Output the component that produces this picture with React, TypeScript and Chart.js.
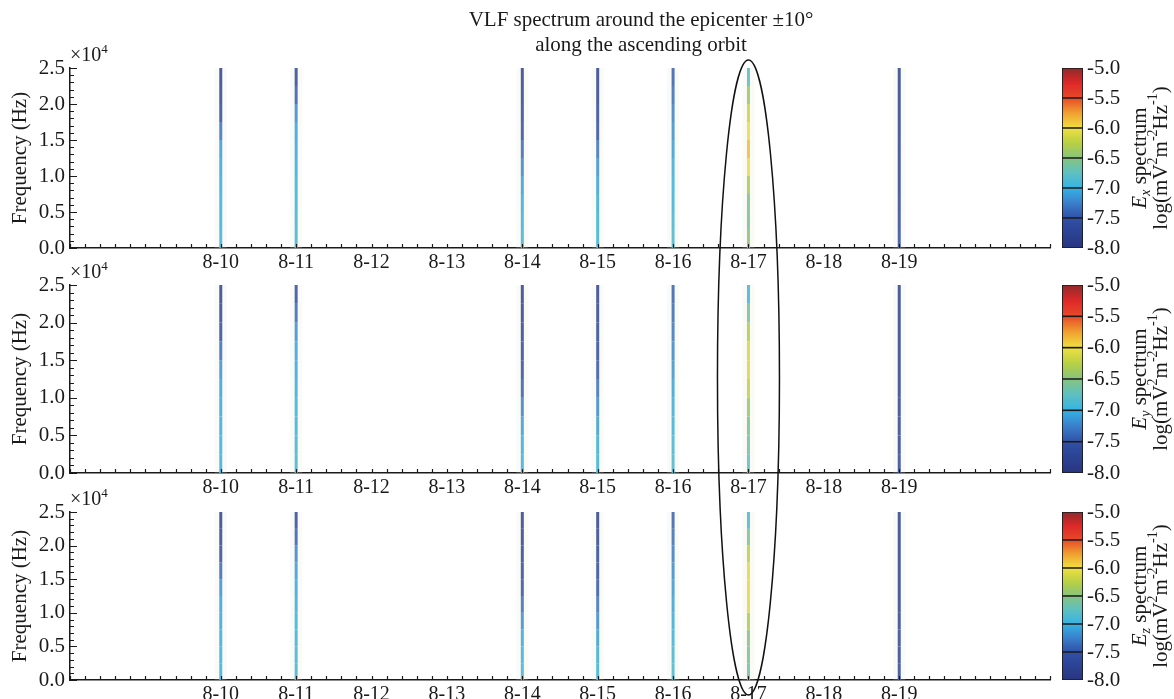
import React, { useEffect, useRef, useState } from 'react';
import { Chart, registerables } from 'chart.js';
Chart.register(...registerables);

// ---------------- DATA ----------------
const allDates = ['8-08', '8-09', '8-10', '8-11', '8-12', '8-13', '8-14', '8-15', '8-16', '8-17', '8-18', '8-19', '8-20', '8-21'];
const shownDates = ['8-10', '8-11', '8-12', '8-13', '8-14', '8-15', '8-16', '8-17', '8-18', '8-19'];
const stripDates = ['8-10', '8-11', '8-14', '8-15', '8-16', '8-17', '8-19'];
const circledDate = '8-17';
const freqHz = [0, 2500, 5000, 7500, 10000, 12500, 15000, 17500, 20000, 22500, 25000];
const freqTicks = [0, 5000, 10000, 15000, 20000, 25000];
const colorTicks = [-8.0, -7.5, -7.0, -6.5, -6.0, -5.5, -5.0];

// log spectrum values (bottom -> top of each strip), one row per strip date
const exValues = [
  [-6.95, -6.95, -7.0, -7.0, -7.05, -7.05, -7.15, -7.5, -7.7, -7.75, -7.8],
  [-6.9, -6.95, -6.95, -7.0, -7.0, -7.05, -7.05, -7.1, -7.3, -7.6, -7.75],
  [-6.9, -6.95, -7.0, -7.05, -7.15, -7.3, -7.45, -7.6, -7.7, -7.75, -7.8],
  [-6.95, -7.0, -7.0, -7.05, -7.1, -7.2, -7.45, -7.6, -7.7, -7.75, -7.8],
  [-6.85, -6.9, -6.95, -7.0, -7.0, -7.05, -7.15, -7.2, -7.3, -7.4, -7.45],
  [-6.4, -6.55, -6.6, -6.5, -6.15, -5.85, -5.9, -6.1, -6.2, -6.6, -7.0],
  [-7.55, -7.6, -7.65, -7.7, -7.7, -7.75, -7.75, -7.8, -7.8, -7.8, -7.8],
];
const eyValues = [
  [-6.95, -7.0, -7.0, -7.05, -7.05, -7.1, -7.2, -7.5, -7.7, -7.75, -7.8],
  [-6.9, -6.95, -6.95, -7.0, -7.0, -7.05, -7.05, -7.1, -7.25, -7.5, -7.65],
  [-6.95, -7.0, -7.05, -7.15, -7.35, -7.5, -7.6, -7.7, -7.75, -7.8, -7.8],
  [-6.95, -7.0, -7.05, -7.15, -7.25, -7.4, -7.55, -7.65, -7.7, -7.75, -7.8],
  [-6.85, -6.9, -6.95, -7.0, -7.05, -7.1, -7.2, -7.25, -7.35, -7.4, -7.45],
  [-6.8, -6.7, -6.6, -6.55, -6.3, -6.1, -6.05, -6.15, -6.4, -6.8, -7.05],
  [-7.65, -7.7, -7.7, -7.75, -7.75, -7.8, -7.8, -7.8, -7.8, -7.8, -7.8],
];
const ezValues = [
  [-6.95, -7.0, -7.0, -7.05, -7.05, -7.1, -7.2, -7.55, -7.7, -7.75, -7.8],
  [-6.9, -6.95, -6.95, -7.0, -7.0, -7.05, -7.05, -7.15, -7.3, -7.55, -7.7],
  [-6.9, -6.95, -7.0, -7.1, -7.25, -7.45, -7.55, -7.65, -7.75, -7.8, -7.8],
  [-6.95, -7.0, -7.05, -7.15, -7.25, -7.4, -7.55, -7.65, -7.7, -7.75, -7.8],
  [-6.85, -6.9, -6.95, -7.0, -7.05, -7.1, -7.15, -7.25, -7.3, -7.4, -7.45],
  [-6.7, -6.6, -6.55, -6.45, -6.15, -5.95, -6.0, -6.1, -6.35, -6.75, -7.0],
  [-7.65, -7.7, -7.7, -7.75, -7.75, -7.8, -7.8, -7.8, -7.8, -7.8, -7.8],
];
const components = ['x', 'y', 'z'];

// ---------------- STYLE ----------------
const FONT = '"Liberation Serif", "Times New Roman", serif';
const INK = '#1a1a1a';
const CMAP_STOPS: [number, string][] = [
  [-8.0, '#283580'], [-7.5, '#3050a6'], [-7.25, '#3a80cc'], [-7.0, '#35b2e4'],
  [-6.75, '#5ec0c2'], [-6.5, '#86c47e'], [-6.25, '#b8d044'], [-6.0, '#f0e040'],
  [-5.75, '#f0a030'], [-5.5, '#e84a28'], [-5.25, '#de2828'], [-5.0, '#8e2a2a'],
];
function hexRgb(h: string) {
  return [parseInt(h.slice(1, 3), 16), parseInt(h.slice(3, 5), 16), parseInt(h.slice(5, 7), 16)];
}
function cmap(v: number): string {
  const s = CMAP_STOPS;
  if (v <= s[0][0]) return s[0][1];
  if (v >= s[s.length - 1][0]) return s[s.length - 1][1];
  for (let i = 0; i < s.length - 1; i++) {
    if (v >= s[i][0] && v <= s[i + 1][0]) {
      const t = (v - s[i][0]) / (s[i + 1][0] - s[i][0]);
      const a = hexRgb(s[i][1]), b = hexRgb(s[i + 1][1]);
      const c = a.map((x, k) => Math.round(x + (b[k] - x) * t));
      return `rgb(${c[0]},${c[1]},${c[2]})`;
    }
  }
  return s[0][1];
}

const PANELS = [
  { top: 0, height: 278, padTop: 68, xH: 30, areaTop: 68, areaBottom: 248, values: exValues },
  { top: 255, height: 248, padTop: 30, xH: 30, areaTop: 285, areaBottom: 473, values: eyValues },
  { top: 482, height: 217, padTop: 30, xH: 19, areaTop: 512, areaBottom: 680, values: ezValues },
];
const PANEL_W = 1060;
const CB_LEFT = 1050;
const CB_W = 124;
const CB_PAD = 22;

type Part = { t: string; sup?: boolean; sub?: boolean; italic?: boolean };
function drawRich(ctx: CanvasRenderingContext2D, parts: Part[], x: number, y: number, size: number, align: 'left' | 'center') {
  const fontOf = (p: Part) => `${p.italic ? 'italic ' : ''}${p.sup || p.sub ? Math.round(size * 0.65) : size}px ${FONT}`;
  let total = 0;
  const widths = parts.map((p) => { ctx.font = fontOf(p); const w = ctx.measureText(p.t).width; total += w; return w; });
  let cx = align === 'center' ? x - total / 2 : x;
  ctx.textAlign = 'left';
  parts.forEach((p, i) => {
    ctx.font = fontOf(p);
    const dy = p.sup ? -size * 0.38 : p.sub ? size * 0.28 : 0;
    ctx.fillText(p.t, cx, y + dy);
    cx += widths[i];
  });
}

function panelConfig(p: typeof PANELS[number], idx: number): any {
  const datasets: any[] = [];
  stripDates.forEach((d, si) => {
    const day = allDates.indexOf(d);
    const vals = p.values[si];
    const pts = freqHz.map((f) => ({ x: day, y: f }));
    datasets.push({ data: pts, borderColor: 'rgba(230,230,210,0.18)', borderWidth: 12, pointRadius: 0, borderCapStyle: 'butt' });
    datasets.push({
      data: pts, borderWidth: 3, pointRadius: 0, borderCapStyle: 'butt', borderColor: cmap(vals[0]),
      segment: { borderColor: (c: any) => cmap((vals[c.p0DataIndex] + vals[c.p1DataIndex]) / 2) },
    });
  });
  const plugin = {
    id: 'panelDecor' + idx,
    afterDatasetsDraw(chart: any) {
      const { ctx, chartArea: a, scales } = chart;
      ctx.save();
      ctx.strokeStyle = INK;
      ctx.lineWidth = 1.2;
      ctx.beginPath();
      for (let v = 0; v <= 25000; v += 1000) {
        const y = Math.round(scales.y.getPixelForValue(v)) + 0.5;
        const len = v % 5000 === 0 ? 7 : 4;
        ctx.moveTo(a.left, y); ctx.lineTo(a.left + len, y);
      }
      for (let i = 0; i <= (allDates.length - 1) * 5; i++) {
        const x = Math.round(scales.x.getPixelForValue(i / 5)) + 0.5;
        ctx.moveTo(x, a.bottom); ctx.lineTo(x, a.bottom - 4);
      }
      ctx.stroke();
      ctx.fillStyle = INK;
      ctx.textBaseline = 'alphabetic';
      drawRich(ctx, [{ t: '×10' }, { t: '4', sup: true }], a.left, a.top - 7, 20, 'left');
      if (idx === 0) {
        ctx.textBaseline = 'middle';
        drawRich(ctx, [{ t: 'VLF spectrum around the epicenter ±10°' }], 641, 20, 21, 'center');
        drawRich(ctx, [{ t: 'along the ascending orbit' }], 641, 45, 21, 'center');
      }
      ctx.restore();
    },
  };
  return {
    type: 'line',
    data: { datasets },
    plugins: [plugin],
    options: {
      responsive: false, animation: false, devicePixelRatio: 1,
      layout: { padding: { top: p.padTop, right: PANEL_W - 1050, left: 0, bottom: 0 } },
      plugins: { legend: { display: false }, tooltip: { enabled: false } },
      scales: {
        x: {
          type: 'linear', min: 0, max: allDates.length - 1,
          afterFit: (s: any) => { s.height = p.xH; },
          afterBuildTicks: (s: any) => { s.ticks = allDates.map((_, i) => ({ value: i })); },
          ticks: {
            autoSkip: false, maxRotation: 0, padding: 3, color: INK,
            font: { family: FONT, size: 20 },
            callback: (v: number) => (shownDates.includes(allDates[v]) ? allDates[v] : ''),
          },
          grid: { display: true, drawOnChartArea: false, drawTicks: false },
          border: { display: true, color: INK, width: 1.5 },
        },
        y: {
          type: 'linear', min: 0, max: 25000,
          afterFit: (s: any) => { s.width = 70; },
          afterBuildTicks: (s: any) => { s.ticks = freqTicks.map((v) => ({ value: v })); },
          ticks: { autoSkip: false, padding: 5, color: INK, font: { family: FONT, size: 21 }, callback: (v: number) => (v / 1e4).toFixed(1) },
          title: { display: true, text: 'Frequency (Hz)', color: INK, font: { family: FONT, size: 21 }, padding: { top: 8, bottom: 0 } },
          grid: { display: true, drawOnChartArea: false, drawTicks: false },
          border: { display: true, color: INK, width: 1.5 },
        },
      },
    },
  };
}

function cbConfig(idx: number): any {
  const bands: [number, number][] = [];
  for (let i = 0; i < colorTicks.length - 1; i++) bands.push([colorTicks[i], colorTicks[i + 1]]);
  const comp = components[idx];
  const plugin = {
    id: 'cbDecor' + idx,
    afterDraw(chart: any) {
      const { ctx, chartArea: a } = chart;
      const mid = (a.top + a.bottom) / 2;
      ctx.save();
      ctx.fillStyle = INK;
      ctx.textBaseline = 'middle';
      ctx.translate(1140 - CB_LEFT, mid);
      ctx.rotate(-Math.PI / 2);
      drawRich(ctx, [{ t: 'E', italic: true }, { t: comp, italic: true, sub: true }, { t: ' spectrum' }], 0, 0, 21, 'center');
      ctx.restore();
      ctx.save();
      ctx.fillStyle = INK;
      ctx.textBaseline = 'middle';
      ctx.translate(1161 - CB_LEFT, mid);
      ctx.rotate(-Math.PI / 2);
      drawRich(ctx, [{ t: 'log(mV' }, { t: '2', sup: true }, { t: 'm' }, { t: '-2', sup: true }, { t: 'Hz' }, { t: '-1', sup: true }, { t: ')' }], 0, 0, 21, 'center');
      ctx.restore();
    },
  };
  return {
    type: 'bar',
    data: {
      labels: ['cb'],
      datasets: bands.map(([lo, hi]) => ({
        data: [[lo, hi]],
        borderColor: INK, borderWidth: 1.2, borderSkipped: false,
        barPercentage: 1, categoryPercentage: 1, grouped: false,
        backgroundColor: (c: any) => {
          const chart = c.chart;
          if (!chart.chartArea) return cmap((lo + hi) / 2);
          const ys = chart.scales.y;
          const g = chart.ctx.createLinearGradient(0, ys.getPixelForValue(lo), 0, ys.getPixelForValue(hi));
          for (let k = 0; k <= 10; k++) g.addColorStop(k / 10, cmap(lo + (hi - lo) * (k / 10)));
          return g;
        },
      })),
    },
    plugins: [plugin],
    options: {
      responsive: false, animation: false, devicePixelRatio: 1,
      layout: { padding: { top: CB_PAD, bottom: CB_PAD, left: 1062 - CB_LEFT, right: 0 } },
      plugins: { legend: { display: false }, tooltip: { enabled: false } },
      scales: {
        x: { display: false },
        y: {
          position: 'right', min: -8, max: -5,
          afterFit: (s: any) => { s.width = CB_W - (1083 - CB_LEFT); },
          afterBuildTicks: (s: any) => { s.ticks = colorTicks.map((v) => ({ value: v })); },
          ticks: { autoSkip: false, padding: -4, color: INK, font: { family: FONT, size: 21 }, callback: (v: number) => v.toFixed(1) },
          grid: { display: false },
          border: { display: false },
        },
      },
    },
  };
}

export default function App() {
  const panelRefs = [useRef<HTMLCanvasElement>(null), useRef<HTMLCanvasElement>(null), useRef<HTMLCanvasElement>(null)];
  const cbRefs = [useRef<HTMLCanvasElement>(null), useRef<HTMLCanvasElement>(null), useRef<HTMLCanvasElement>(null)];
  const [ell, setEll] = useState<{ cx: number; top: number; bottom: number } | null>(null);

  useEffect(() => {
    const charts: Chart[] = [];
    PANELS.forEach((p, i) => {
      charts.push(new Chart(panelRefs[i].current as HTMLCanvasElement, panelConfig(p, i)));
      charts.push(new Chart(cbRefs[i].current as HTMLCanvasElement, cbConfig(i)));
    });
    const c1: any = charts[0];
    const c3: any = charts[4];
    setEll({
      cx: c1.scales.x.getPixelForValue(allDates.indexOf(circledDate)),
      top: PANELS[0].top + c1.chartArea.top - 8,
      bottom: PANELS[2].top + c3.chartArea.bottom + 15,
    });
    return () => charts.forEach((c) => c.destroy());
  }, []);

  return (
    <div style={{ position: 'absolute', left: 0, top: 0, width: 1174, height: 699, overflow: 'hidden', background: '#fff' }}>
      {PANELS.map((p, i) => {
        const cbTop = p.areaTop - CB_PAD;
        const cbH = p.areaBottom - p.areaTop + 2 * CB_PAD;
        return (
          <React.Fragment key={i}>
            <canvas ref={panelRefs[i]} width={PANEL_W} height={p.height}
              style={{ position: 'absolute', left: 0, top: p.top, width: PANEL_W, height: p.height }} />
            <canvas ref={cbRefs[i]} width={CB_W} height={cbH}
              style={{ position: 'absolute', left: CB_LEFT, top: cbTop, width: CB_W, height: cbH }} />
          </React.Fragment>
        );
      })}
      {ell && (
        <svg width={1174} height={699} style={{ position: 'absolute', left: 0, top: 0, pointerEvents: 'none' }}>
          <ellipse cx={ell.cx} cy={(ell.top + ell.bottom) / 2} rx={31} ry={(ell.bottom - ell.top) / 2}
            fill="none" stroke="#111" strokeWidth={1.5} />
        </svg>
      )}
    </div>
  );
}
